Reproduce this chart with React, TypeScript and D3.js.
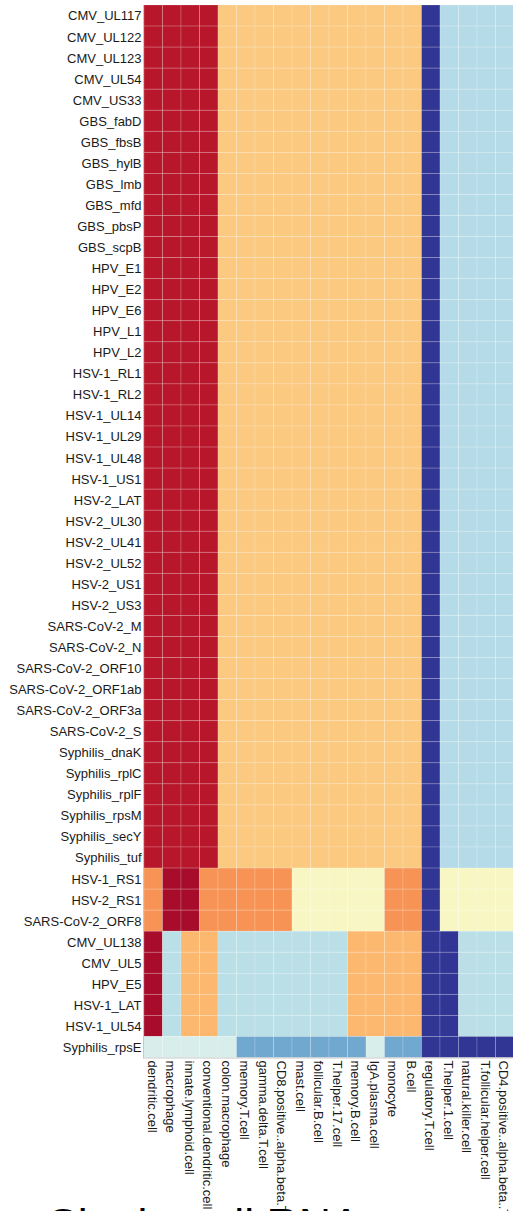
import React, { useEffect, useRef } from "react";
import * as d3 from "d3";

const columns = [
  "dendritic.cell",
  "macrophage",
  "innate.lymphoid.cell",
  "conventional.dendritic.cell",
  "colon.macrophage",
  "memory.T.cell",
  "gamma.delta.T.cell",
  "CD8.positive..alpha.beta.T.cell",
  "mast.cell",
  "follicular.B.cell",
  "T.helper.17.cell",
  "memory.B.cell",
  "IgA.plasma.cell",
  "monocyte",
  "B.cell",
  "regulatory.T.cell",
  "T.helper.1.cell",
  "natural.killer.cell",
  "T.follicular.helper.cell",
  "CD4.positive..alpha.beta..T.cell",
];

// Group 1 rows
const rowsGroup1 = [
  "CMV_UL117", "CMV_UL122", "CMV_UL123", "CMV_UL54", "CMV_US33",
  "GBS_fabD", "GBS_fbsB", "GBS_hylB", "GBS_lmb", "GBS_mfd", "GBS_pbsP", "GBS_scpB",
  "HPV_E1", "HPV_E2", "HPV_E6", "HPV_L1", "HPV_L2",
  "HSV-1_RL1", "HSV-1_RL2", "HSV-1_UL14", "HSV-1_UL29", "HSV-1_UL48", "HSV-1_US1",
  "HSV-2_LAT", "HSV-2_UL30", "HSV-2_UL41", "HSV-2_UL52", "HSV-2_US1", "HSV-2_US3",
  "SARS-CoV-2_M", "SARS-CoV-2_N", "SARS-CoV-2_ORF10", "SARS-CoV-2_ORF1ab", "SARS-CoV-2_ORF3a", "SARS-CoV-2_S",
  "Syphilis_dnaK", "Syphilis_rplC", "Syphilis_rplF", "Syphilis_rpsM", "Syphilis_secY", "Syphilis_tuf",
];
const valuesGroup1 = [1.8, 1.8, 1.8, 1.8, 0.6, 0.6, 0.6, 0.6, 0.6, 0.6, 0.6, 0.6, 0.6, 0.6, 0.6, -2, -0.6, -0.6, -0.6, -0.6];

const rowsGroup2 = ["HSV-1_RS1", "HSV-2_RS1", "SARS-CoV-2_ORF8"];
const valuesGroup2 = [1.2, 2, 2, 1.2, 1.2, 1.2, 1.2, 1.2, 0.2, 0.2, 0.2, 0.2, 0.2, 1.2, 1.2, -2, 0.2, 0.2, 0.2, 0.2];

const rowsGroup3 = ["CMV_UL138", "CMV_UL5", "HPV_E5", "HSV-1_LAT", "HSV-1_UL54"];
const valuesGroup3 = [2, -0.5, 0.8, 0.8, -0.5, -0.5, -0.5, -0.5, -0.5, -0.5, -0.5, 0.8, 0.8, 0.8, 0.8, -2, -2, -0.5, -0.5, -0.5];

const rowsGroup4 = ["Syphilis_rpsE"];
const valuesGroup4 = [-0.2, -0.2, -0.2, -0.2, -0.2, -1.4, -1.4, -1.4, -1.4, -1.4, -1.4, -1.4, -0.2, -1.4, -1.4, -2, -2, -2, -2, -2];

const colorDomain = [-2, -1.4, -0.6, -0.5, -0.2, 0.2, 0.6, 0.8, 1.2, 1.8, 2];
const colorRange = ["#313695", "#70a8d0", "#b5dbe8", "#bbdfe7", "#d7eeeb", "#f8f7c3", "#fbc97f", "#fcb86f", "#f79355", "#b8172b", "#a70d2a"];

const titleText = "Single-cell RNA";

export default function App() {
  const ref = useRef<SVGSVGElement>(null);

  useEffect(() => {
    const svg = d3.select(ref.current);
    svg.selectAll("*").remove();

    const groups = [
      { rows: rowsGroup1, values: valuesGroup1 },
      { rows: rowsGroup2, values: valuesGroup2 },
      { rows: rowsGroup3, values: valuesGroup3 },
      { rows: rowsGroup4, values: valuesGroup4 },
    ];
    const rowNames: string[] = [];
    const cells: { r: string; c: string; v: number }[] = [];
    groups.forEach((g) => {
      g.rows.forEach((r) => {
        rowNames.push(r);
        g.values.forEach((v, i) => cells.push({ r, c: columns[i], v }));
      });
    });

    const left = 144;
    const top = 5;
    const cw = 18.5;
    const rh = 21.05;
    const x = d3.scaleBand<string>().domain(columns).range([left, left + cw * columns.length]);
    const y = d3.scaleBand<string>().domain(rowNames).range([top, top + rh * rowNames.length]);
    const color = d3.scaleLinear<string>().domain(colorDomain).range(colorRange).interpolate(d3.interpolateRgb);

    const font = "'Liberation Sans', Arial, Helvetica, sans-serif";

    svg
      .append("g")
      .selectAll("rect")
      .data(cells)
      .join("rect")
      .attr("x", (d) => x(d.c)!)
      .attr("y", (d) => y(d.r)!)
      .attr("width", x.bandwidth())
      .attr("height", y.bandwidth())
      .attr("fill", (d) => color(d.v))
      .attr("stroke", "#ffffff")
      .attr("stroke-opacity", 0.22)
      .attr("stroke-width", 0.8);

    const bottom = top + rh * rowNames.length;
    // frame lines
    svg
      .append("line")
      .attr("x1", left - 0.5)
      .attr("x2", left - 0.5)
      .attr("y1", top)
      .attr("y2", bottom + 1)
      .attr("stroke", "#c8c8c8")
      .attr("stroke-width", 1);
    svg
      .append("line")
      .attr("x1", left - 0.5)
      .attr("x2", 513)
      .attr("y1", bottom + 0.5)
      .attr("y2", bottom + 0.5)
      .attr("stroke", "#c8c8c8")
      .attr("stroke-width", 1);

    // row labels
    svg
      .append("g")
      .selectAll("text")
      .data(rowNames)
      .join("text")
      .attr("x", left - 2.5)
      .attr("y", (d) => y(d)! + y.bandwidth() / 2)
      .attr("dy", "0.38em")
      .attr("text-anchor", "end")
      .attr("font-family", font)
      .attr("font-size", 13)
      .attr("fill", "#1a1a1a")
      .text((d) => d);

    // column labels
    svg
      .append("g")
      .selectAll("text")
      .data(columns)
      .join("text")
      .attr("transform", (d) => `translate(${x(d)! + x.bandwidth() / 2 - 1},${bottom + 3}) rotate(90)`)
      .attr("dy", "0.35em")
      .attr("text-anchor", "start")
      .attr("font-family", font)
      .attr("font-size", 13)
      .attr("fill", "#1a1a1a")
      .text((d) => d);

    svg
      .append("text")
      .attr("x", 48)
      .attr("y", 1240)
      .attr("font-family", font)
      .attr("font-size", 44.7)
      .attr("fill", "#000")
      .text(titleText);
  }, []);

  return (
    <svg
      ref={ref}
      width={513}
      height={1260}
      style={{ position: "absolute", left: 0, top: 0, display: "block" }}
    />
  );
}
